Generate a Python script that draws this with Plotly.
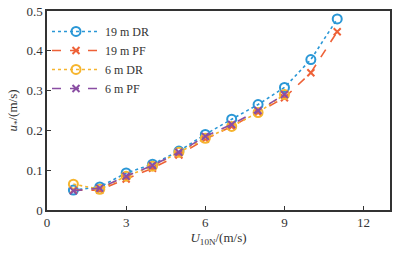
import plotly.graph_objects as go

x19 = [1, 2, 3, 4, 5, 6, 7, 8, 9, 10, 11]
dr19 = [0.050, 0.058, 0.093, 0.115, 0.148, 0.190, 0.228, 0.265, 0.308, 0.378, 0.480]
pf19 = [0.050, 0.050, 0.078, 0.105, 0.138, 0.178, 0.210, 0.245, 0.282, 0.345, 0.448]
x6 = [1, 2, 3, 4, 5, 6, 7, 8, 9]
dr6 = [0.065, 0.052, 0.085, 0.110, 0.145, 0.180, 0.210, 0.245, 0.290]
pf6 = [0.048, 0.055, 0.085, 0.112, 0.145, 0.185, 0.215, 0.250, 0.290]

names = ["19 m DR", "19 m PF", "6 m DR", "6 m PF"]
xtick = [0, 3, 6, 9, 12]
ytick = [0, 0.1, 0.2, 0.3, 0.4, 0.5]
ytext = ["0", "0.1", "0.2", "0.3", "0.4", "0.5"]

FONT = "Liberation Serif, Times New Roman, serif"

fig = go.Figure()
series = [
    (x19, dr19, names[0], "#2a97d6", "dot", "circle-open", 9),
    (x19, pf19, names[1], "#ee6137", "dash", "x-thin-open", 7),
    (x6, dr6, names[2], "#f6b52e", "dot", "circle-open", 9),
    (x6, pf6, names[3], "#8a4ea3", "dash", "x-thin-open", 7),
]
for xs, ys, nm, col, dash, sym, sz in series:
    fig.add_trace(go.Scatter(
        x=xs, y=ys, name=nm, mode="lines+markers",
        line=dict(color=col, dash=dash, width=1.6),
        marker=dict(symbol=sym, size=sz, color=col, line=dict(color=col, width=2)),
    ))

fig.update_layout(
    width=407, height=255,
    margin=dict(l=47, r=17, t=11, b=45),
    paper_bgcolor="white", plot_bgcolor="white",
    font=dict(family=FONT, size=13, color="#333"),
    showlegend=True,
    legend=dict(x=0.0, y=0.97, xanchor="left", yanchor="top",
                bgcolor="rgba(0,0,0,0)", font=dict(size=12, family=FONT),
                itemwidth=48, tracegroupgap=0),
)
fig.update_xaxes(
    range=[0, 13], tickvals=xtick, ticks="inside", ticklen=4, tickcolor="#333",
    showgrid=False, zeroline=False, showline=True, linecolor="#333", linewidth=1.5,
    mirror=True, tickfont=dict(size=13), automargin=False,
    title=dict(text="<i>U</i><sub>10N</sub>/(m/s)", font=dict(size=13, family=FONT), standoff=0),
)
fig.update_yaxes(
    range=[0, 0.5], tickvals=ytick, ticktext=ytext, ticks="inside", ticklen=4, tickcolor="#333",
    showgrid=False, zeroline=False, showline=True, linecolor="#333", linewidth=1.5,
    mirror=True, tickfont=dict(size=13), automargin=False,
    title=dict(text="<i>u</i><sub>*</sub>/(m/s)", font=dict(size=13, family=FONT), standoff=6),
)

fig.write_html("out.html", config={"displayModeBar": False},
               post_script="document.body.style.margin='0';document.body.style.overflow='hidden';")
